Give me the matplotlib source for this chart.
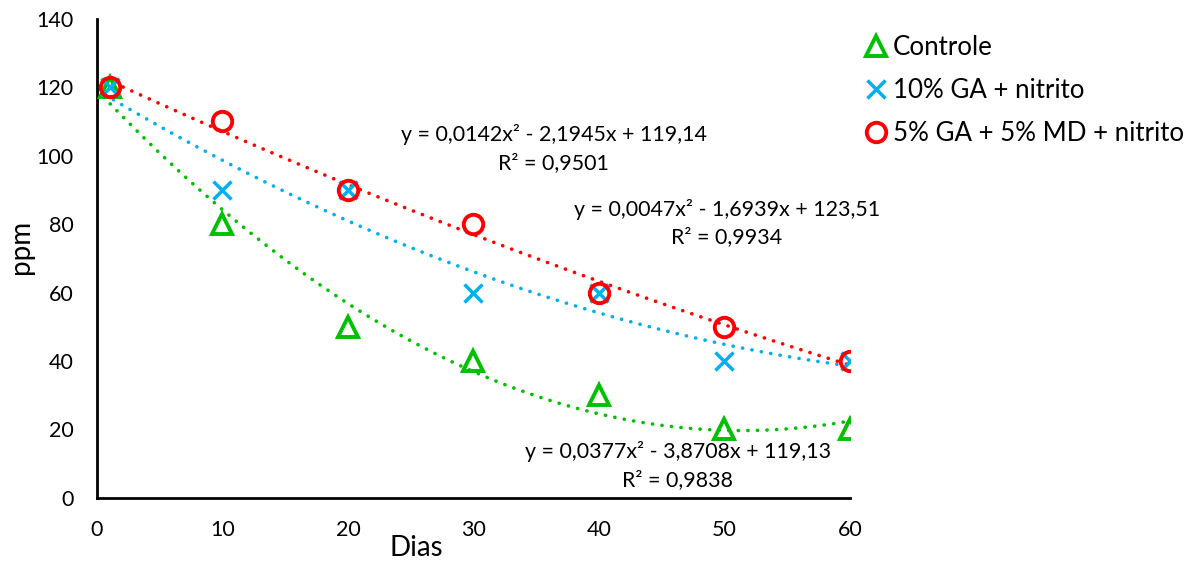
import numpy as np
import matplotlib
matplotlib.use("Agg")
import matplotlib.pyplot as plt

plt.rcParams['font.family'] = ['Lato', 'DejaVu Sans']

dias = [1, 10, 20, 30, 40, 50, 60]
controle = [120, 80, 50, 40, 30, 20, 20]
ga10 = [120, 90, 90, 60, 60, 40, 40]
ga5_md5 = [120, 110, 90, 80, 60, 50, 40]

labels = ["Controle", "10% GA + nitrito", "5% GA + 5% MD + nitrito"]
colors = ["#00C000", "#00B0F0", "#FF0000"]
markers = ["^", "x", "o"]

# equation labels as shown on the chart (Excel trendline text)
eq_text = [
    "y = 0,0377x² - 3,8708x + 119,13\nR² = 0,9838",
    "y = 0,0142x² - 2,1945x + 119,14\nR² = 0,9501",
    "y = 0,0047x² - 1,6939x + 123,51\nR² = 0,9934",
]
eq_pos = [(46.3, 9.6), (36.4, 102), (50.2, 80.3)]

fig = plt.figure(figsize=(11.97, 5.63), dpi=100)
ax = fig.add_axes([0.081, 0.1155, 0.629, 0.8515])

xs = np.linspace(0, 60, 200)
handles = []
for y, lab, c, m, eq, pos in zip([controle, ga10, ga5_md5], labels, colors, markers, eq_text, eq_pos):
    coef = np.polyfit(dias, y, 2)
    ax.plot(xs, np.polyval(coef, xs), color=c, lw=2.6, linestyle=(0, (0.05, 2.6)),
            dash_capstyle='round', zorder=2)
    if m == "x":
        h, = ax.plot(dias, y, linestyle='none', marker=m, ms=13, mew=2.5, color=c, label=lab, zorder=3)
    else:
        h, = ax.plot(dias, y, linestyle='none', marker=m, ms=14, mew=2.8, mfc='none', mec=c,
                     label=lab, zorder=3)
    handles.append(h)
    ax.text(pos[0], pos[1], eq, ha='center', va='center', multialignment='center',
            fontsize=15.4, linespacing=1.5, zorder=4)

ax.set_xlim(0, 60)
ax.set_ylim(0, 140)
ax.set_xticks(range(0, 61, 10))
ax.set_yticks(range(0, 141, 20))
ax.tick_params(length=0, labelsize=15.5, pad=16)
ax.tick_params(axis='y', pad=17)
for s in ['top', 'right']:
    ax.spines[s].set_visible(False)
for s in ['left', 'bottom']:
    ax.spines[s].set_linewidth(2)
    ax.spines[s].set_color('black')

ax.set_xlabel("Dias", fontsize=20)
ax.set_ylabel("ppm", fontsize=20)
ax.xaxis.set_label_coords(0.424, -0.078)
ax.yaxis.set_label_coords(-0.083, 0.523)

fig.legend(handles=handles, loc='upper left', bbox_to_anchor=(0.716, 0.957), frameon=False,
           fontsize=18.6, handlelength=0.7, handletextpad=0.3, labelspacing=0.70,
           borderaxespad=0)

fig.savefig("out.png", dpi=100)
